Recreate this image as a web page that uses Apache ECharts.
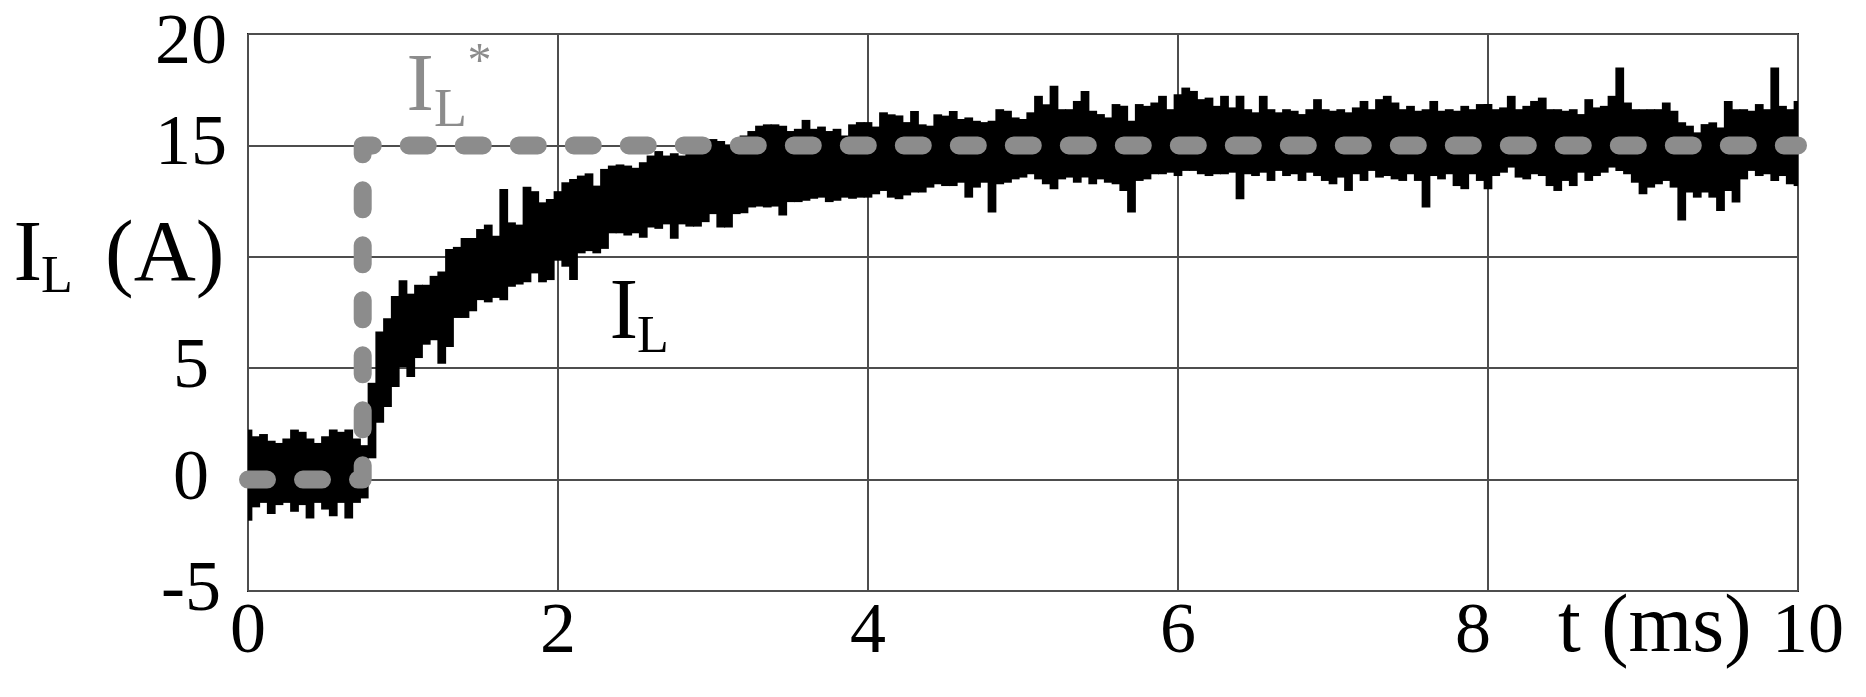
<!DOCTYPE html>
<html>
<head>
<meta charset="utf-8">
<script src="https://cdn.jsdelivr.net/npm/echarts@6/dist/echarts.min.js"></script>
<style>
html,body{margin:0;padding:0;background:#ffffff;}
#chart{width:1866px;height:697px;}
</style>
</head>
<body>
<div id="chart"></div>
<script>
// ---------- data ----------
const xTickLabels = ['0', '2', '4', '6', '8', '10'];
const yTickLabels = ['-5', '0', '5', '', '15', '20']; // the 10 A level carries the axis title instead
const sampleStep = 0.05; // ms between envelope samples (t = 0 .. 10 ms)

// measured inductor current I_L : upper edge of the noisy trace (A), one row per ms
const ilUpper = [
  2.2, 1.9, 2.0, 1.7, 1.6, 1.8, 2.2, 2.1, 1.8, 1.6, 1.9, 2.2, 2.1, 2.2, 1.8, 1.5, 4.3, 6.6, 7.2, 8.2,
  8.9, 8.3, 8.7, 8.7, 9.1, 9.3, 10.3, 10.4, 10.8, 10.8, 11.2, 11.4, 10.9, 13.0, 11.5, 11.4, 13.1, 12.9, 12.4, 12.55,
  12.9, 13.3, 13.45, 13.6, 13.7, 13.15, 13.9, 14.05, 14.1, 14.05, 13.95, 14.2, 14.5, 14.7, 14.5, 14.6, 14.5, 14.65, 14.7, 14.85,
  15.24, 15.15, 15.0, 15.15, 15.4, 15.6, 15.84, 15.9, 15.9, 15.84, 15.6, 15.7, 16.1, 15.7, 15.8, 15.6, 15.7, 15.4, 15.9, 16.0,
  16.0, 15.8, 16.44, 16.35, 16.3, 16.0, 16.5, 15.9, 15.84, 16.35, 16.29, 16.5, 16.14, 16.21, 16.06, 16.0, 16.06, 16.58, 16.51, 16.21,
  16.14, 16.44, 17.18, 16.8, 17.63, 16.58, 16.58, 16.95, 17.4, 16.51, 16.36, 16.21, 16.81, 16.73, 16.06, 16.81, 16.73, 16.88, 17.18, 16.58,
  17.25, 17.55, 17.4, 17.03, 17.1, 16.73, 17.18, 16.66, 17.18, 16.58, 16.44, 17.18, 16.58, 16.44, 16.58, 16.51, 16.36, 16.58, 17.03, 16.58,
  16.51, 16.58, 16.44, 16.66, 16.95, 16.58, 17.03, 17.18, 16.88, 16.58, 16.73, 16.51, 16.58, 16.95, 16.51, 16.58, 16.51, 16.73, 16.58, 16.81,
  16.81, 16.58, 16.66, 17.18, 16.58, 16.73, 16.95, 17.1, 16.58, 16.58, 16.51, 16.58, 16.36, 17.03, 16.66, 16.73, 17.18, 18.45, 16.88, 16.58,
  16.58, 16.58, 16.58, 16.88, 16.51, 15.99, 15.84, 15.54, 15.91, 15.99, 15.76, 16.95, 16.58, 16.58, 16.51, 16.81, 16.58, 18.45, 16.73, 16.58,
  16.95
];
// lower edge of the noisy trace (A)
const ilLower = [
  -1.8, -1.2, -1.0, -1.5, -1.1, -1.0, -1.4, -1.1, -1.7, -1.0, -1.3, -1.6, -1.0, -1.7, -1.0, -0.8, 1.0, 2.6, 3.3, 4.2,
  5.1, 4.65, 5.5, 6.1, 6.3, 5.25, 6.0, 7.3, 7.3, 7.6, 8.1, 8.0, 8.2, 8.1, 8.7, 8.8, 8.9, 9.3, 8.9, 9.0,
  9.87, 9.6, 9.0, 10.2, 10.3, 10.2, 10.4, 11.1, 11.1, 11.0, 11.1, 10.9, 11.36, 11.3, 11.5, 10.85, 11.5, 11.4, 11.4, 11.6,
  11.96, 11.36, 11.36, 11.96, 12.0, 12.26, 12.3, 12.26, 12.3, 11.9, 12.5, 12.5, 12.56, 12.65, 12.7, 12.5, 12.56, 12.7, 12.65, 12.7,
  12.7, 12.85, 13.0, 12.7, 12.63, 12.8, 12.93, 12.93, 13.15, 13.3, 13.22, 13.22, 13.37, 12.7, 13.15, 13.37, 12.03, 13.3, 13.37, 13.52,
  13.6, 13.75, 13.52, 13.3, 13.08, 13.52, 13.6, 13.37, 13.6, 13.3, 13.52, 13.37, 13.3, 13.0, 12.03, 13.45, 13.52, 13.75, 13.75, 13.82,
  13.67, 13.9, 13.9, 13.75, 13.67, 13.75, 13.75, 13.82, 12.63, 13.75, 13.67, 13.82, 13.45, 13.9, 13.67, 13.75, 13.45, 13.82, 13.67, 13.45,
  13.3, 13.6, 13.0, 13.75, 13.45, 13.9, 13.6, 13.67, 13.52, 13.45, 13.75, 13.45, 12.26, 13.67, 13.52, 13.75, 13.22, 13.08, 13.75, 13.45,
  13.08, 13.67, 13.82, 14.05, 13.6, 13.52, 13.75, 13.67, 13.22, 13.0, 13.45, 13.22, 13.82, 13.45, 13.67, 13.82, 14.05, 13.9, 13.75, 13.37,
  12.85, 13.15, 13.3, 13.45, 13.15, 11.67, 12.93, 12.7, 12.93, 12.7, 12.1, 13.0, 12.48, 13.52, 13.9, 13.67, 13.75, 13.45, 13.67, 13.3,
  13.22
];
// reference current I_L* (step from 0 A to 15 A)
const refTime  = [0, 0.74, 0.74, 10];
const refValue = [0, 0, 15, 15];

// ---------- build series data ----------
const T_MIN = 0, T_MAX = 10;
const bandData = ilUpper.map((v, i) => [+(i * sampleStep).toFixed(2), ilLower[i], v]);
const refData  = refTime.map((t, i) => [t, refValue[i]]);

const SERIF = '"Liberation Serif", "Times New Roman", serif';
const GRAY = '#8c8c8c';
const GRID = '#4d4d4d';

const chart = echarts.init(document.getElementById('chart'), null, {renderer: 'canvas'});

function txt(str, x, y, size, color) {
  return {
    type: 'text', x: x, y: y, silent: true, z: 100,
    style: {text: str, font: size + 'px ' + SERIF, fill: color, align: 'left', verticalAlign: 'middle'}
  };
}

function renderBand(params, api) {
  const t = api.value(0), lo = api.value(1), hi = api.value(2);
  const half = sampleStep / 2;
  const pA = api.coord([Math.max(T_MIN, t - half), hi]);
  const pB = api.coord([Math.min(T_MAX, t + half), lo]);
  return {
    type: 'rect',
    shape: {x: pA[0] - 0.5, y: pA[1] - 1, width: pB[0] - pA[0] + 1, height: pB[1] - pA[1] + 2},
    style: {fill: '#000'}
  };
}

chart.setOption({
  animation: false,
  backgroundColor: '#ffffff',
  grid: {left: 248, right: 68, top: 34, bottom: 106, show: true, borderColor: '#1a1a1a', borderWidth: 2, backgroundColor: 'transparent'},
  xAxis: {
    type: 'value', min: T_MIN, max: T_MAX, interval: 2,
    axisLine: {show: false}, axisTick: {show: false},
    splitLine: {show: true, lineStyle: {color: GRID, width: 2}},
    axisLabel: {
      margin: 6, color: '#000', fontSize: 72, fontFamily: SERIF,
      formatter: function (v) {
        const s = xTickLabels[Math.round(v / 2)];
        if (s === '10') return '{r|' + s + '}';
        if (s === '8') return '{l|' + s + '}';
        return s;
      },
      rich: {
        r: {fontSize: 72, fontFamily: SERIF, color: '#000', padding: [0, 0, 0, 20]},
        l: {fontSize: 72, fontFamily: SERIF, color: '#000', padding: [0, 30, 0, 0]}
      }
    }
  },
  yAxis: {
    type: 'value', min: -5, max: 20, interval: 5,
    axisLine: {show: false}, axisTick: {show: false},
    splitLine: {show: true, lineStyle: {color: GRID, width: 2}},
    axisLabel: {
      margin: 57, align: 'center', color: '#000', fontSize: 72, fontFamily: SERIF,
      formatter: function (v) {
        const s = yTickLabels[Math.round((v + 5) / 5)];
        return s === '20' ? '{t|' + s + '}' : s;
      },
      rich: {t: {fontSize: 72, fontFamily: SERIF, color: '#000', padding: [20, 0, 0, 0]}}
    }
  },
  series: [
    {
      name: 'IL', type: 'custom', z: 2, clip: true,
      renderItem: renderBand,
      encode: {x: 0, y: [1, 2]},
      data: bandData
    },
    {
      name: 'IL*', type: 'line', symbol: 'none', z: 5,
      lineStyle: {color: GRAY, width: 18, type: [19, 36], cap: 'round', join: 'round'},
      data: refData
    }
  ],
  graphic: [
    // y-axis title  I_L (A)
    txt('I', 13.5, 257, 86, '#000'),
    txt('L', 41, 278, 52, '#000'),
    txt('(A)', 105, 257, 86, '#000'),
    // reference label I_L*
    txt('I', 406.5, 88, 82, GRAY),
    txt('L', 434, 112, 54, GRAY),
    txt('*', 467.6, 63, 48, GRAY),
    // measured label I_L
    txt('I', 609.5, 315, 86, '#000'),
    txt('L', 637, 338, 52, '#000'),
    // x-axis title
    txt('t (ms)', 1558, 629, 82, '#000')
  ]
});
</script>
</body>
</html>
